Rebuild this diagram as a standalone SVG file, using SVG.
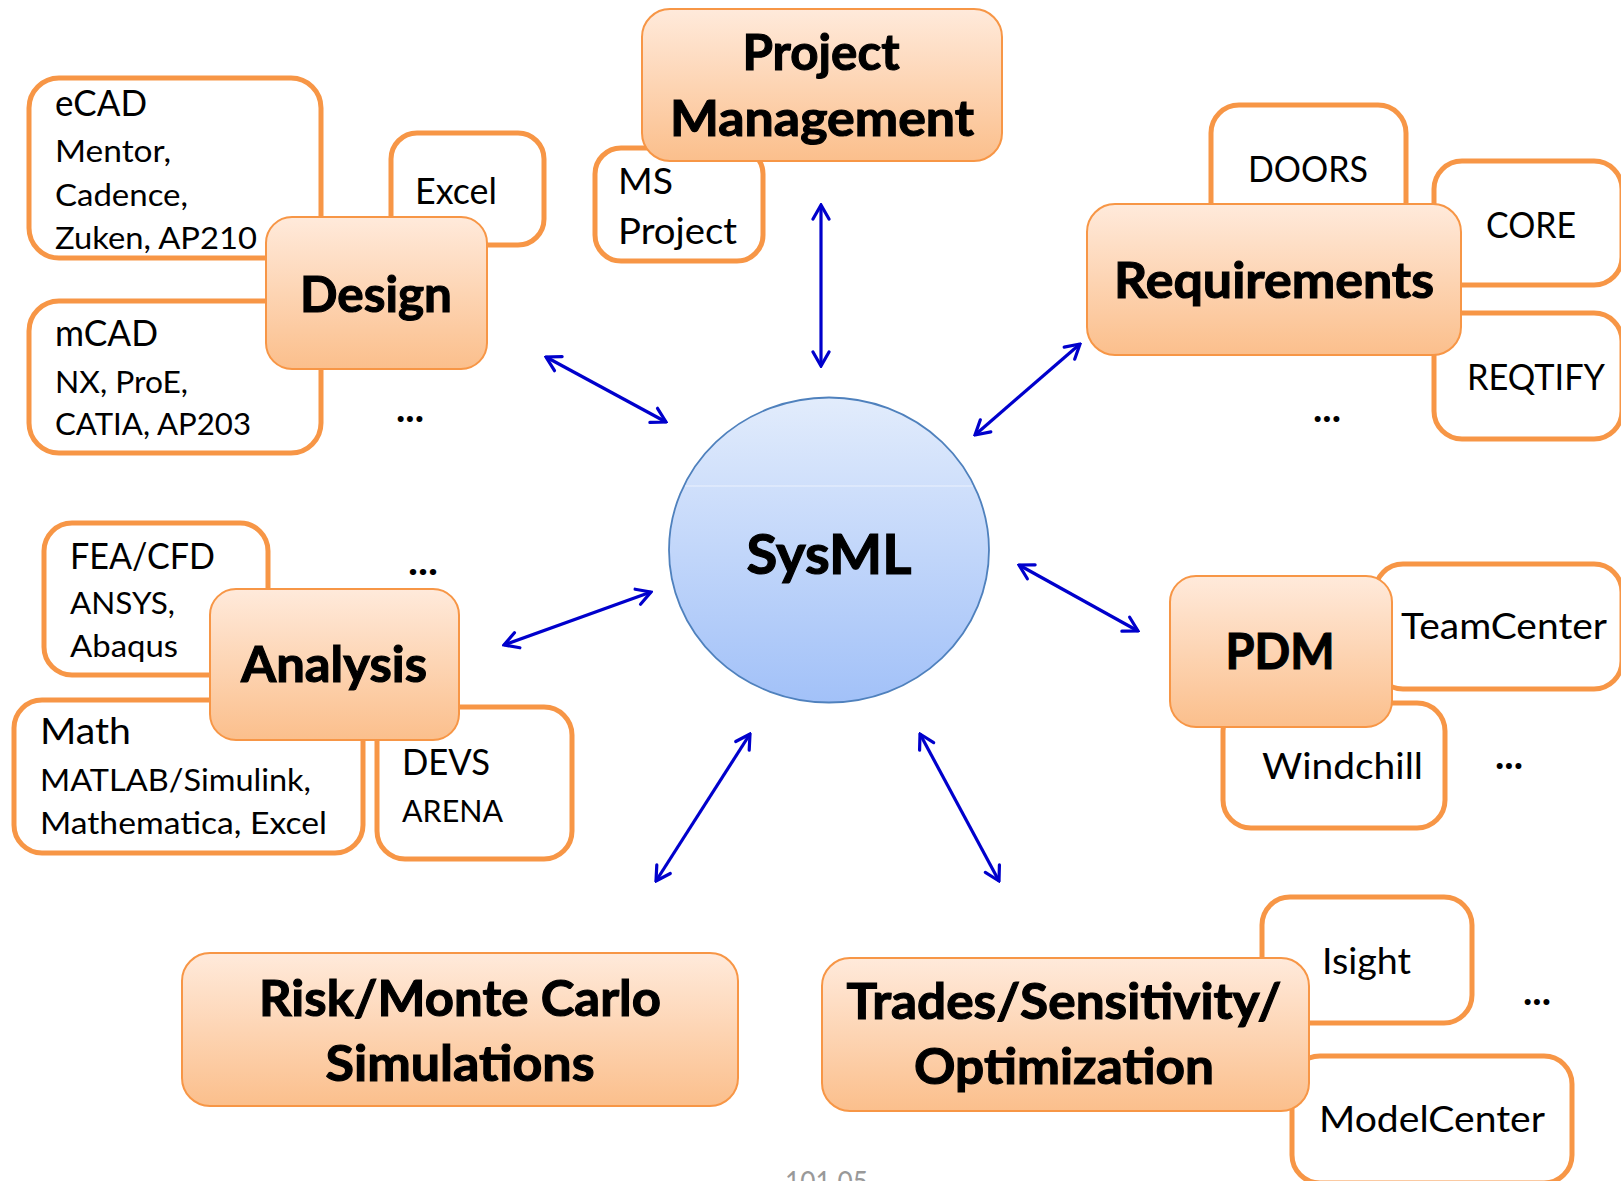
<svg xmlns="http://www.w3.org/2000/svg" width="1621" height="1181" viewBox="0 0 1621 1181">
<defs>
<linearGradient id="og" x1="0" y1="0" x2="0" y2="1">
<stop offset="0" stop-color="#ffeadb"/>
<stop offset="1" stop-color="#fbbf8c"/>
</linearGradient>
<linearGradient id="bg" x1="0" y1="0" x2="0" y2="1">
<stop offset="0" stop-color="#e2ecfc"/>
<stop offset="1" stop-color="#a2c1f8"/>
</linearGradient>
<marker id="ah" viewBox="-18 -11 20 22" refX="0" refY="0" markerWidth="20" markerHeight="22" markerUnits="userSpaceOnUse" orient="auto-start-reverse">
<path d="M-14,-8 L0,0 L-14,8" fill="none" stroke="#0000cc" stroke-width="3.2" stroke-linecap="round" stroke-linejoin="miter"/>
</marker>
</defs>
<style>
text{font-family:Lato,"Open Sans","DejaVu Sans",sans-serif;fill:#000}
.wb{fill:#fff;stroke:#f79646;stroke-width:5}
.ob{fill:url(#og);stroke:#f79646;stroke-width:2}
.t{font-weight:bold;font-size:49px;text-anchor:middle;stroke:#000;stroke-width:1.1}
.l{font-size:36px}
.s{font-size:31.5px}
.d{font-weight:bold;font-size:40px}
.c{fill:none;stroke:#0000cc;stroke-width:3.2;marker-start:url(#ah);marker-end:url(#ah)}
</style>
<rect width="1621" height="1181" fill="#fff"/>

<g id="design-group">
<g id="ecad"><rect class="wb" x="29" y="78" width="292" height="180" rx="30"/>
<text class="l" x="55" y="116" textLength="92" lengthAdjust="spacingAndGlyphs">eCAD</text>
<text class="s" x="55" y="162" textLength="116" lengthAdjust="spacingAndGlyphs">Mentor,</text>
<text class="s" x="55" y="206" textLength="133" lengthAdjust="spacingAndGlyphs">Cadence,</text>
<text class="s" x="55" y="249" textLength="202" lengthAdjust="spacingAndGlyphs">Zuken, AP210</text></g>
<g id="excel"><rect class="wb" x="391" y="133" width="153" height="112" rx="26"/>
<text class="l" x="415" y="204" textLength="82" lengthAdjust="spacingAndGlyphs">Excel</text></g>
<g id="mcad"><rect class="wb" x="29" y="301" width="292" height="152" rx="30"/>
<text class="l" x="55" y="346" textLength="103" lengthAdjust="spacingAndGlyphs">mCAD</text>
<text class="s" x="55" y="393" textLength="133" lengthAdjust="spacingAndGlyphs">NX, ProE,</text>
<text class="s" x="55" y="435" textLength="196" lengthAdjust="spacingAndGlyphs">CATIA, AP203</text></g>
<g id="design"><rect class="ob" x="266" y="217" width="221" height="152" rx="26"/>
<text class="t" x="376" y="312" textLength="152" lengthAdjust="spacingAndGlyphs">Design</text></g>
<text id="design-more" class="d" x="396" y="422" textLength="28" lengthAdjust="spacingAndGlyphs">...</text>
</g>

<g id="pm-group">
<g id="msproject"><rect class="wb" x="595" y="148" width="168" height="113" rx="26"/>
<text class="l" x="618" y="194" textLength="55" lengthAdjust="spacingAndGlyphs">MS</text>
<text class="l" x="618" y="244" textLength="119" lengthAdjust="spacingAndGlyphs">Project</text></g>
<g id="pm"><rect class="ob" x="642" y="9" width="360" height="152" rx="28"/>
<text class="t" x="821" y="70" textLength="157" lengthAdjust="spacingAndGlyphs">Project</text>
<text class="t" x="822" y="136" textLength="304" lengthAdjust="spacingAndGlyphs">Management</text></g>
</g>

<g id="req-group">
<g id="doors"><rect class="wb" x="1211" y="105" width="195" height="160" rx="28"/>
<text class="l" x="1308" y="182" text-anchor="middle" textLength="120" lengthAdjust="spacingAndGlyphs">DOORS</text></g>
<g id="core"><rect class="wb" x="1434" y="161" width="188" height="124" rx="28"/>
<text class="l" x="1486" y="238" textLength="90" lengthAdjust="spacingAndGlyphs">CORE</text></g>
<g id="reqtify"><rect class="wb" x="1434" y="313" width="188" height="126" rx="28"/>
<text class="l" x="1467" y="390" textLength="138" lengthAdjust="spacingAndGlyphs">REQTIFY</text></g>
<g id="requirements"><rect class="ob" x="1087" y="204" width="374" height="151" rx="28"/>
<text class="t" x="1274" y="298" textLength="320" lengthAdjust="spacingAndGlyphs">Requirements</text></g>
<text id="req-more" class="d" x="1313" y="422" textLength="28" lengthAdjust="spacingAndGlyphs">...</text>
</g>

<g id="analysis-group">
<g id="feacfd"><rect class="wb" x="44" y="523" width="224" height="152" rx="28"/>
<text class="l" x="70" y="569" textLength="145" lengthAdjust="spacingAndGlyphs">FEA/CFD</text>
<text class="s" x="70" y="614" textLength="105" lengthAdjust="spacingAndGlyphs">ANSYS,</text>
<text class="s" x="70" y="657" textLength="108" lengthAdjust="spacingAndGlyphs">Abaqus</text></g>
<g id="math"><rect class="wb" x="14" y="700" width="349" height="153" rx="28"/>
<text class="l" x="40" y="744" textLength="91" lengthAdjust="spacingAndGlyphs">Math</text>
<text class="s" x="40" y="791" textLength="271" lengthAdjust="spacingAndGlyphs">MATLAB/Simulink,</text>
<text class="s" x="40" y="834" textLength="287" lengthAdjust="spacingAndGlyphs">Mathematica, Excel</text></g>
<g id="devs"><rect class="wb" x="377" y="707" width="195" height="152" rx="28"/>
<text class="l" x="402" y="775" textLength="88" lengthAdjust="spacingAndGlyphs">DEVS</text>
<text class="s" x="402" y="822" textLength="101" lengthAdjust="spacingAndGlyphs">ARENA</text></g>
<g id="analysis"><rect class="ob" x="210" y="589" width="249" height="151" rx="26"/>
<text class="t" x="334" y="682" textLength="186" lengthAdjust="spacingAndGlyphs">Analysis</text></g>
<text id="analysis-more" class="d" x="408" y="575" textLength="30" lengthAdjust="spacingAndGlyphs">...</text>
</g>

<g id="pdm-group">
<g id="teamcenter"><rect class="wb" x="1375" y="564" width="247" height="125" rx="28"/>
<text class="l" x="1401" y="639" textLength="206" lengthAdjust="spacingAndGlyphs">TeamCenter</text></g>
<g id="windchill"><rect class="wb" x="1223" y="703" width="222" height="125" rx="28"/>
<text class="l" x="1262" y="779" textLength="161" lengthAdjust="spacingAndGlyphs">Windchill</text></g>
<g id="pdm"><rect class="ob" x="1170" y="576" width="222" height="151" rx="26"/>
<text class="t" x="1280" y="669" textLength="109" lengthAdjust="spacingAndGlyphs">PDM</text></g>
<text id="pdm-more" class="d" x="1495" y="769" textLength="28" lengthAdjust="spacingAndGlyphs">...</text>
</g>

<g id="risk"><rect class="ob" x="182" y="953" width="556" height="153" rx="28"/>
<text class="t" x="460" y="1016" textLength="402" lengthAdjust="spacingAndGlyphs">Risk/Monte Carlo</text>
<text class="t" x="460" y="1081" textLength="269" lengthAdjust="spacingAndGlyphs">Simulations</text></g>

<g id="trades-group">
<g id="isight"><rect class="wb" x="1262" y="897" width="210" height="126" rx="28"/>
<text class="l" x="1322" y="974" textLength="89" lengthAdjust="spacingAndGlyphs">Isight</text></g>
<g id="modelcenter"><rect class="wb" x="1292" y="1056" width="280" height="127" rx="28"/>
<text class="l" x="1319" y="1132" textLength="226" lengthAdjust="spacingAndGlyphs">ModelCenter</text></g>
<g id="trades"><rect class="ob" x="822" y="958" width="487" height="153" rx="28"/>
<text class="t" x="1064" y="1019" textLength="435" lengthAdjust="spacingAndGlyphs">Trades/Sensitivity/</text>
<text class="t" x="1064" y="1084" textLength="300" lengthAdjust="spacingAndGlyphs">Optimization</text></g>
<text id="trades-more" class="d" x="1523" y="1005" textLength="28" lengthAdjust="spacingAndGlyphs">...</text>
</g>

<g id="sysml">
<ellipse cx="829" cy="550" rx="160" ry="152.5" fill="url(#bg)" stroke="#4f81bd" stroke-width="1.8"/>
<line x1="685" y1="486" x2="973" y2="486" stroke="#ffffff" stroke-opacity="0.6" stroke-width="1.2"/>
<text x="829" y="574" font-weight="bold" font-size="56" text-anchor="middle" stroke="#000" stroke-width="1.2" textLength="165" lengthAdjust="spacingAndGlyphs">SysML</text>
</g>

<g id="connectors">
<line class="c" x1="821" y1="205" x2="821" y2="366"/>
<line class="c" x1="546" y1="357" x2="666" y2="422"/>
<line class="c" x1="1080" y1="344" x2="975" y2="435"/>
<line class="c" x1="504" y1="645" x2="651" y2="592"/>
<line class="c" x1="1019" y1="565" x2="1138" y2="631"/>
<line class="c" x1="750" y1="734" x2="656" y2="881"/>
<line class="c" x1="920" y1="734" x2="999" y2="881"/>
</g>

<text x="785" y="1192" font-size="28" fill="#999999" style="fill:#999999" textLength="83" lengthAdjust="spacingAndGlyphs">101 05</text>
</svg>
